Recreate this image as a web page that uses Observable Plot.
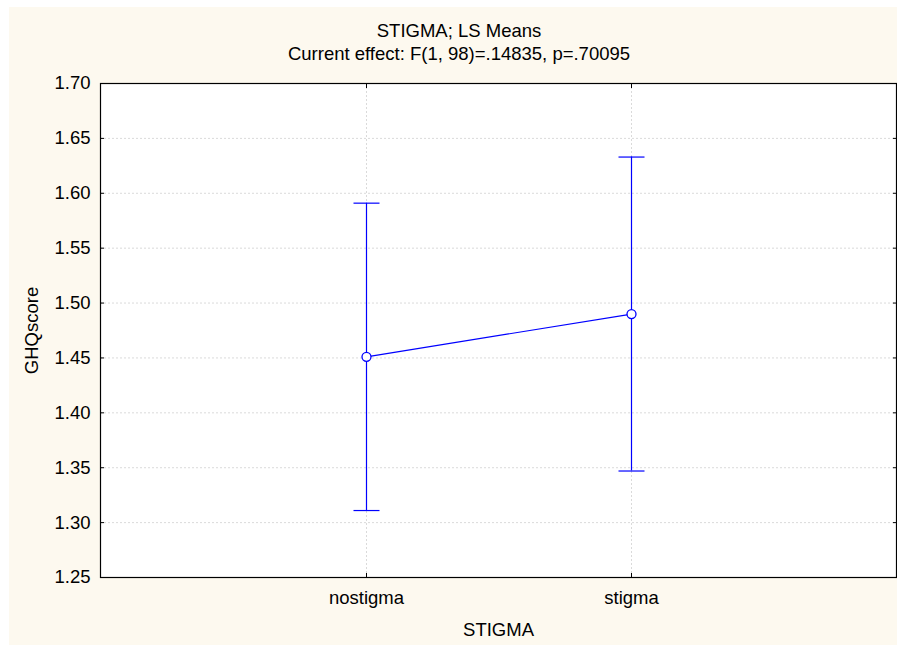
<!DOCTYPE html>
<html>
<head>
<meta charset="utf-8">
<script src="https://cdn.jsdelivr.net/npm/d3@7"></script>
<script src="https://cdn.jsdelivr.net/npm/@observablehq/plot@0.6"></script>
<style>
  html, body { margin: 0; padding: 0; background: #ffffff; }
  #wrap { position: relative; width: 897px; height: 645px; overflow: hidden; font-family: "Liberation Sans", Arial, sans-serif; }
  #panel { position: absolute; left: 9px; top: 7px; right: 0; bottom: 0; background: #fdf9ef; }
  .ttl { position: absolute; left: 459px; transform: translateX(-50%); font-size: 18.5px; line-height: 23px; white-space: nowrap; color: #000; }
  #chart { position: absolute; left: 0; top: 0; }
</style>
</head>
<body>
<div id="wrap">
  <div id="panel"></div>
  <div class="ttl" style="top:19px">STIGMA; LS Means</div>
  <div class="ttl" style="top:42px">Current effect: F(1, 98)=.14835, p=.70095</div>
  <div id="chart"></div>
</div>
<script>
const categories = ["nostigma", "stigma"];
const means = [1.451, 1.490];
const lower = [1.311, 1.347];
const upper = [1.591, 1.633];
const yTicks = [1.25, 1.30, 1.35, 1.40, 1.45, 1.50, 1.55, 1.60, 1.65, 1.70];
const xLabel = "STIGMA";
const yLabel = "GHQscore";

const data = categories.map((c, i) => ({cat: c, mean: means[i], lo: lower[i], hi: upper[i]}));
const blue = "#0000ff";

// horizontal cap symbol for error bars
const capSymbol = {
  draw(context) {
    context.moveTo(-13, 0);
    context.lineTo(13, 0);
  }
};

const chart = Plot.plot({
  width: 897,
  height: 645,
  marginLeft: 100,
  marginRight: 1,
  marginTop: 83,
  marginBottom: 68,
  style: {background: "transparent", fontFamily: "'Liberation Sans', Arial, sans-serif", fontSize: "18.5px", color: "#000", overflow: "visible"},
  x: {type: "point", domain: categories, padding: 1},
  y: {domain: [1.25, 1.70]},
  marks: [
    Plot.frame({fill: "#ffffff", stroke: null}),
    Plot.gridY(yTicks, {stroke: "#dadada", strokeOpacity: 1, strokeDasharray: "2,2"}),
    Plot.gridX(categories, {stroke: "#dadada", strokeOpacity: 1, strokeDasharray: "2,2"}),
    Plot.axisY({ticks: yTicks, tickFormat: d3.format(".2f"), tickSize: -4, tickPadding: 14, label: yLabel, labelAnchor: "center", labelOffset: 76, labelArrow: "none"}),
    Plot.axisY({anchor: "right", ticks: yTicks, tickSize: -4, tickFormat: () => "", label: null}),
    Plot.axisX({tickSize: -4, tickPadding: 17, label: xLabel, labelAnchor: "center", labelOffset: 58, labelArrow: "none"}),
    Plot.axisX({anchor: "top", tickSize: -4, tickFormat: () => "", label: null}),
    Plot.ruleX(data, {x: "cat", y1: "lo", y2: "hi", stroke: blue, strokeWidth: 1.2}),
    Plot.dot(data, {x: "cat", y: "hi", symbol: capSymbol, fill: "none", stroke: blue, strokeWidth: 1.2}),
    Plot.dot(data, {x: "cat", y: "lo", symbol: capSymbol, fill: "none", stroke: blue, strokeWidth: 1.2}),
    Plot.line(data, {x: "cat", y: "mean", stroke: blue, strokeWidth: 1.2}),
    Plot.dot(data, {x: "cat", y: "mean", r: 4.5, fill: "#ffffff", stroke: blue, strokeWidth: 1.3}),
    Plot.frame({stroke: "#000", strokeWidth: 1.2})
  ]
});
document.getElementById("chart").appendChild(chart);
</script>
</body>
</html>
